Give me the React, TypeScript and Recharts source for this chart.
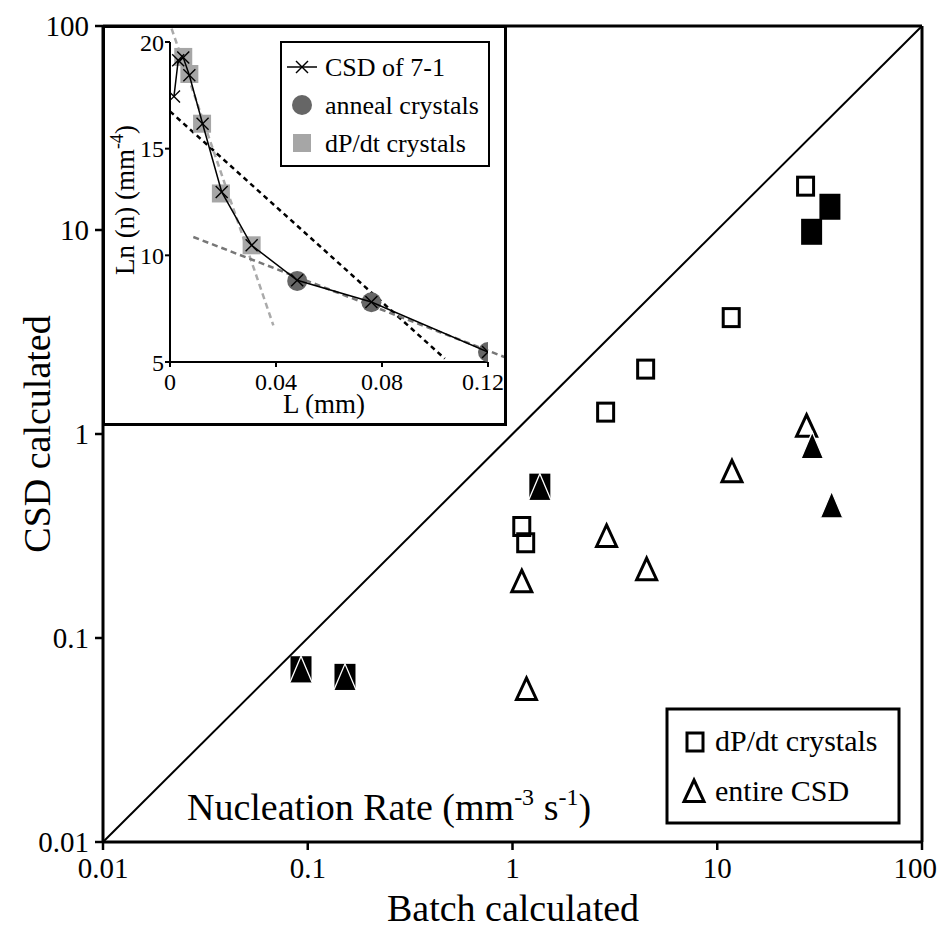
import React from 'react';
import { ScatterChart, Scatter, XAxis, YAxis, ReferenceLine } from 'recharts';

// main plot: batch calculated vs CSD calculated nucleation rates
const batchOpenSq = [27.0, 11.7, 4.47, 2.85, 1.11, 1.16];
const csdOpenSq = [16.4, 3.72, 2.08, 1.28, 0.352, 0.293];
const batchFillSq = [35.5, 28.9, 1.36, 0.0927, 0.152];
const csdFillSq = [13.0, 9.8, 0.552, 0.0703, 0.0645];
const batchOpenTri = [27.3, 11.8, 2.88, 4.52, 1.11, 1.17];
const csdOpenTri = [1.11, 0.664, 0.32, 0.22, 0.192, 0.0569];
const batchFillTri = [29.1, 36.2, 1.36, 0.0927, 0.152];
const csdFillTri = [0.883, 0.452, 0.552, 0.0703, 0.0645];
const logTicks = [0.01, 0.1, 1, 10, 100];

// inset: CSD of 7-1
const csdL = [0.0015, 0.0031, 0.005, 0.0073, 0.0123, 0.0195, 0.0308, 0.048, 0.076, 0.12];
const csdLn = [17.45, 19.14, 19.27, 18.44, 16.17, 12.97, 10.47, 8.83, 7.81, 5.47];
const dpdtL = [0.005, 0.0073, 0.0121, 0.0192, 0.0308];
const dpdtLn = [19.3, 18.5, 16.17, 12.9, 10.47];
const annealL = [0.048, 0.076, 0.12];
const annealLn = [8.8, 7.8, 5.47];
const insetXTicks = [0, 0.04, 0.08, 0.12];
const insetYTicks = [5, 10, 15, 20];
// fitted lines (end points)
const fitAll = [{ x: 0, y: 16.75 }, { x: 0.1037, y: 5.16 }];
const fitSmall = [{ x: 0.0006, y: 20.63 }, { x: 0.039, y: 6.72 }];
const fitLarge = [{ x: 0.0088, y: 10.86 }, { x: 0.1263, y: 5.23 }];

const zip = (xs: number[], ys: number[]) => xs.map((x, i) => ({ x, y: ys[i] }));

const FONT = '"Liberation Serif", "Times New Roman", serif';

const OpenSquare = (p: any) => (
  <rect x={p.cx - 8} y={p.cy - 9} width={16} height={18} fill="none" stroke="#000" strokeWidth={3} />
);
const FillSquare = (p: any) => (
  <rect x={p.cx - 10.5} y={p.cy - 13} width={21} height={26} fill="#000" />
);
const OpenTri = (p: any) => (
  <path
    d={`M${p.cx},${p.cy - 10} L${p.cx + 10},${p.cy + 11.5} L${p.cx - 10},${p.cy + 11.5} Z`}
    fill="none" stroke="#000" strokeWidth={3} strokeLinejoin="miter"
  />
);
const FillTri = (p: any) => (
  <g>
    <path d={`M${p.cx},${p.cy - 13} L${p.cx + 11},${p.cy + 13} L${p.cx - 11},${p.cy + 13} Z`} fill="#000" />
    <path d={`M${p.cx - 11},${p.cy + 13} L${p.cx},${p.cy - 13} L${p.cx + 11},${p.cy + 13}`} fill="none" stroke="#fff" strokeWidth={1.3} />
  </g>
);
const GreySquare = (p: any) => (
  <rect x={p.cx - 9} y={p.cy - 9} width={18} height={18} fill="#a6a6a6" />
);
const DarkCircle = (p: any) => <circle cx={p.cx} cy={p.cy} r={10} fill="#666" />;
const Cross = (p: any) => (
  <g stroke="#000" strokeWidth={1.4}>
    <line x1={p.cx - 6} y1={p.cy - 6} x2={p.cx + 6} y2={p.cy + 6} />
    <line x1={p.cx - 6} y1={p.cy + 6} x2={p.cx + 6} y2={p.cy - 6} />
  </g>
);

function Inset() {
  return (
    <div
      style={{
        position: 'absolute', left: 102, top: 25, width: 405, height: 401,
        border: '3px solid #000', boxSizing: 'border-box', background: '#fff',
      }}
    >
      <ScatterChart width={399} height={395} margin={{ top: 14, right: 16, bottom: 21, left: 15 }}>
        <XAxis
          dataKey="x" type="number" domain={[0, 0.12]} ticks={insetXTicks} allowDataOverflow
          height={40} tickSize={5} tickMargin={6}
          tickFormatter={(v: number) => (v === 0 ? '0' : v.toFixed(2))}
          tick={{ fill: '#000', fontSize: 24, fontFamily: FONT }}
          axisLine={{ stroke: '#000', strokeWidth: 2 }} tickLine={{ stroke: '#000', strokeWidth: 2 }}
        />
        <YAxis
          dataKey="y" type="number" domain={[5, 20]} ticks={insetYTicks} allowDataOverflow
          width={50} tickSize={5} tickMargin={1}
          tick={{ fill: '#000', fontSize: 24, fontFamily: FONT }}
          axisLine={{ stroke: '#000', strokeWidth: 2 }} tickLine={{ stroke: '#000', strokeWidth: 2 }}
        />
        <ReferenceLine segment={fitAll} ifOverflow="visible" stroke="#000" strokeWidth={2.5} strokeDasharray="5 4" />
        <ReferenceLine segment={fitSmall} ifOverflow="visible" stroke="#aaa" strokeWidth={2.5} strokeDasharray="6 4" />
        <ReferenceLine segment={fitLarge} ifOverflow="visible" stroke="#777" strokeWidth={2.5} strokeDasharray="6 4" />
        <Scatter data={zip(dpdtL, dpdtLn)} shape={GreySquare} isAnimationActive={false} />
        <Scatter data={zip(annealL, annealLn)} shape={DarkCircle} isAnimationActive={false} />
        <Scatter
          data={zip(csdL, csdLn)} shape={Cross} line={{ stroke: '#000', strokeWidth: 1.5 }}
          lineType="joint" isAnimationActive={false}
        />
      </ScatterChart>
    </div>
  );
}

function Overlay() {
  return (
    <svg
      width={937} height={929}
      style={{ position: 'absolute', left: 0, top: 0, pointerEvents: 'none' }}
      fontFamily={FONT}
    >
      {/* axis titles */}
      <text x={513} y={921} fontSize={38} textAnchor="middle">Batch calculated</text>
      <text x={50} y={434} fontSize={38} textAnchor="middle" transform="rotate(-90 50 434)">CSD calculated</text>
      <text x={187} y={820} fontSize={38}>
        Nucleation Rate (mm<tspan fontSize={24} dy={-15}>-3</tspan>
        <tspan dy={15}> s</tspan><tspan fontSize={24} dy={-15}>-1</tspan><tspan dy={15}>)</tspan>
      </text>

      {/* main legend */}
      <rect x={667} y={709} width={232} height={114} fill="#fff" stroke="#000" strokeWidth={3} />
      <OpenSquare cx={695} cy={742} />
      <text x={715} y={751} fontSize={30}>dP/dt crystals</text>
      <OpenTri cx={694} cy={790} />
      <text x={715} y={801} fontSize={30}>entire CSD</text>

      {/* inset titles */}
      <text x={324} y={413} fontSize={27} textAnchor="middle">L (mm)</text>
      <text x={134} y={200} fontSize={27} textAnchor="middle" transform="rotate(-90 134 200)">
        Ln (n) (mm<tspan fontSize={18} dy={-11}>-4</tspan><tspan dy={11}>)</tspan>
      </text>

      {/* inset legend */}
      <rect x={281} y={42} width={208} height={124} fill="#fff" stroke="#000" strokeWidth={2} />
      <line x1={287} y1={67} x2={317} y2={67} stroke="#000" strokeWidth={1.5} />
      <Cross cx={302} cy={67} />
      <text x={325} y={76} fontSize={26}>CSD of 7-1</text>
      <DarkCircle cx={302} cy={105} />
      <text x={325} y={114} fontSize={26}>anneal crystals</text>
      <GreySquare cx={302} cy={143} />
      <text x={325} y={152} fontSize={26}>dP/dt crystals</text>
    </svg>
  );
}

export default function App() {
  return (
    <div style={{ position: 'relative', width: 937, height: 929, background: '#fff' }}>
      <style>{'body{margin:0}'}</style>
      <ScatterChart width={937} height={929} margin={{ top: 26, right: 15, bottom: 27, left: 23 }}>
        <XAxis
          dataKey="x" type="number" scale="log" domain={[0.01, 100]} ticks={logTicks} allowDataOverflow
          height={60} tickSize={8} tickMargin={7}
          tickFormatter={(v: number) => String(v)}
          tick={{ fill: '#000', fontSize: 29, fontFamily: FONT }}
          axisLine={{ stroke: '#000', strokeWidth: 3 }} tickLine={{ stroke: '#000', strokeWidth: 2.5 }}
        />
        <YAxis
          dataKey="y" type="number" scale="log" domain={[0.01, 100]} ticks={logTicks} allowDataOverflow
          width={80} tickSize={8} tickMargin={6}
          tickFormatter={(v: number) => String(v)}
          tick={{ fill: '#000', fontSize: 29, fontFamily: FONT }}
          axisLine={{ stroke: '#000', strokeWidth: 3 }} tickLine={{ stroke: '#000', strokeWidth: 2.5 }}
        />
        <ReferenceLine y={100} stroke="#000" strokeWidth={3} />
        <ReferenceLine x={100} stroke="#000" strokeWidth={3} />
        <ReferenceLine segment={[{ x: 0.01, y: 0.01 }, { x: 100, y: 100 }]} stroke="#000" strokeWidth={2} />
        <Scatter data={zip(batchOpenSq, csdOpenSq)} shape={OpenSquare} isAnimationActive={false} />
        <Scatter data={zip(batchOpenTri, csdOpenTri)} shape={OpenTri} isAnimationActive={false} />
        <Scatter data={zip(batchFillSq, csdFillSq)} shape={FillSquare} isAnimationActive={false} />
        <Scatter data={zip(batchFillTri, csdFillTri)} shape={FillTri} isAnimationActive={false} />
      </ScatterChart>
      <Inset />
      <Overlay />
    </div>
  );
}
